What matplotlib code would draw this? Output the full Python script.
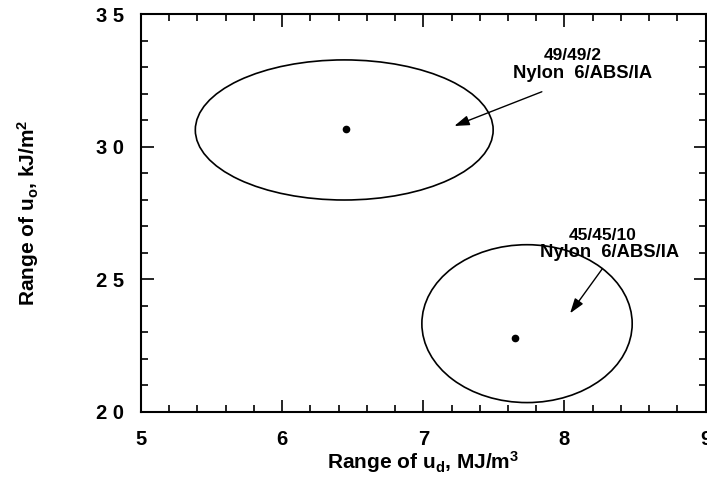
import matplotlib; matplotlib.use("Agg")
import matplotlib.pyplot as plt
from matplotlib.patches import Ellipse
from matplotlib.ticker import MultipleLocator

plt.rcParams["font.family"] = "Liberation Sans"
plt.rcParams["font.weight"] = "bold"
plt.rcParams["axes.labelweight"] = "bold"
plt.rcParams["mathtext.default"] = "regular"

# blend data: mean point and the ellipse of ranges (u_d in MJ/m3, u_o in kJ/m2)
blends = ["49/49/2", "45/45/10"]
mean_ud = [6.45, 7.65]
mean_uo = [30.66, 22.79]
ell_cx = [6.44, 7.735]
ell_cy = [30.63, 23.33]
ell_w = [2.11, 1.49]
ell_h = [5.28, 5.95]
ratio_xy = [(8.06, 33.42), (8.27, 26.64)]
name_xy = [(8.13, 32.77), (8.32, 26.03)]
arrow_from = [(7.84, 32.07), (8.27, 25.41)]
arrow_to = [(7.22, 30.78), (8.04, 23.72)]

xticks = [5, 6, 7, 8, 9]
yticks = [20, 25, 30, 35]
ytick_labels = ["2 0", "2 5", "3 0", "3 5"]

fig = plt.figure(figsize=(7.07, 4.83), dpi=100)
ax = fig.add_axes([0.1994, 0.147, 0.7986, 0.824])
ax.set_xlim(5, 9); ax.set_ylim(20, 35)

for i in range(len(blends)):
    ax.add_patch(Ellipse((ell_cx[i], ell_cy[i]), ell_w[i], ell_h[i],
                         fill=False, ec="black", lw=1.2))
    ax.plot(mean_ud[i], mean_uo[i], "o", color="black", ms=4.5)
    ax.annotate("", xy=arrow_to[i], xytext=arrow_from[i],
                arrowprops=dict(arrowstyle="-|>,head_length=0.9,head_width=0.3",
                                color="black", lw=1.0, shrinkA=0, shrinkB=0))
    ax.text(*ratio_xy[i], blends[i], ha="center", va="center", fontsize=12.5)
    ax.text(*name_xy[i], "Nylon  6/ABS/IA", ha="center", va="center", fontsize=13.2)

ax.set_xticks(xticks)
ax.set_yticks(yticks)
ax.set_yticklabels(ytick_labels)
ax.xaxis.set_minor_locator(MultipleLocator(0.2))
ax.yaxis.set_minor_locator(MultipleLocator(1))
ax.tick_params(which="both", direction="in", top=True, right=True, width=1.2)
ax.tick_params(which="major", length=9, labelsize=14.5)
ax.tick_params(which="minor", length=5)
ax.tick_params(axis="x", pad=13)
ax.tick_params(axis="y", pad=12)
for s in ax.spines.values():
    s.set_linewidth(1.5)

ax.set_xlabel("Range of u$_d$, MJ/m$^3$", fontsize=15, labelpad=0)
ax.set_ylabel("Range of u$_o$, kJ/m$^2$", fontsize=15, labelpad=40)

fig.savefig("out.png", dpi=100)
